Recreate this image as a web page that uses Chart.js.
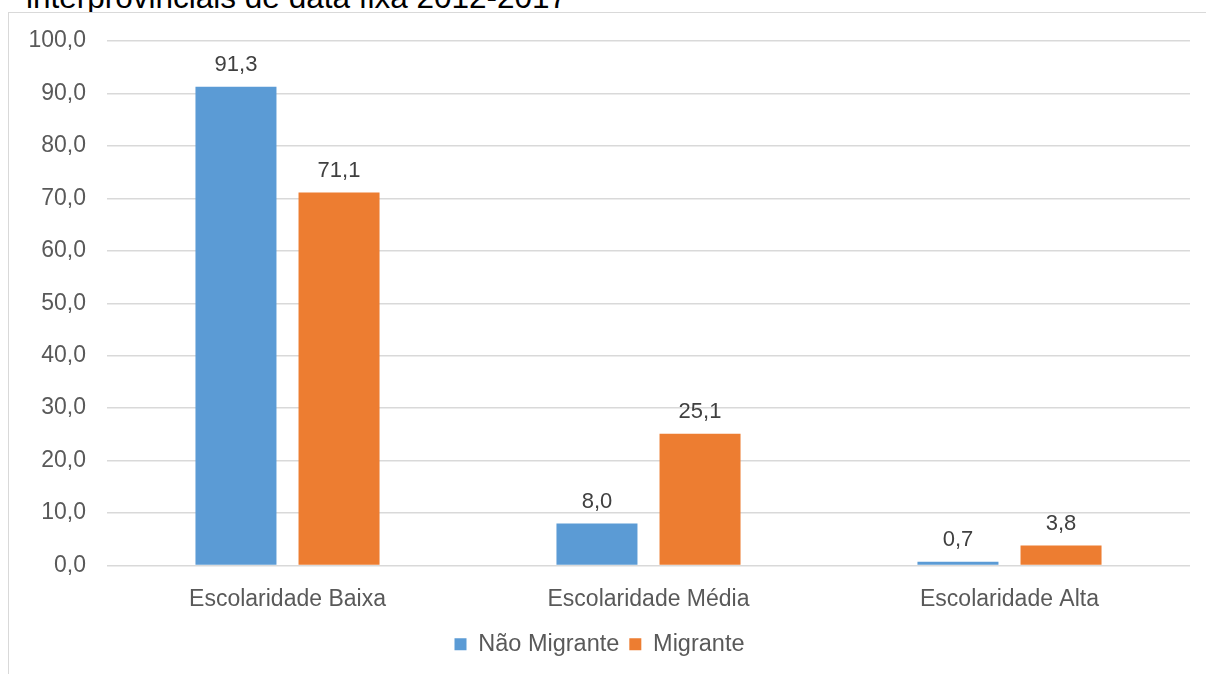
<!DOCTYPE html>
<html>
<head>
<meta charset="utf-8">
<script src="https://cdn.jsdelivr.net/npm/chart.js@4/dist/chart.umd.min.js"></script>
<style>
  html,body{margin:0;padding:0;background:#fff;width:1206px;height:674px;overflow:hidden;font-family:"Liberation Sans",Arial,sans-serif}
  #title{position:absolute;left:26px;top:-18px;font-size:31.5px;line-height:31px;color:#000;white-space:nowrap}
  #frame{position:absolute;left:8px;top:12px;width:1210px;height:680px;border-left:1px solid #d9d9d9;border-top:1px solid #d9d9d9;background:#fff}
  #wrap{position:absolute;left:9px;top:13px;width:1197px;height:661px}
</style>
</head>
<body>
<div id="title">interprovinciais de data fixa 2012-2017</div>
<div id="frame"></div>
<div id="wrap"><canvas id="chart"></canvas></div>
<script>
// categories and series
const CATEGORIES = ['Escolaridade Baixa','Escolaridade Média','Escolaridade Alta'];
const NAO_MIGRANTE = [91.3, 8.0, 0.7];
const MIGRANTE = [71.1, 25.1, 3.8];
const Y_MIN = 0, Y_MAX = 100, Y_STEP = 10;

const FONT = '"Liberation Sans", Arial, sans-serif';
const fmt = v => v.toFixed(1).replace('.', ',');

// draws the value above each bar
const valueLabels = {
  id:'valueLabels',
  afterDatasetsDraw(chart){
    const ctx = chart.ctx;
    ctx.save();
    ctx.font = '22px ' + FONT;
    ctx.fillStyle = '#404040';
    ctx.textAlign = 'center';
    ctx.textBaseline = 'alphabetic';
    chart.data.datasets.forEach((ds, i)=>{
      chart.getDatasetMeta(i).data.forEach((bar, j)=>{
        ctx.fillText(fmt(ds.data[j]), bar.x, bar.y - 16);
      });
    });
    ctx.restore();
  }
};

new Chart(document.getElementById('chart'), {
  type:'bar',
  data:{
    labels:CATEGORIES,
    datasets:[
      {label:'Não Migrante',data:NAO_MIGRANTE,backgroundColor:'#5b9bd5'},
      {label:'Migrante',data:MIGRANTE,backgroundColor:'#ed7d31'}
    ]
  },
  options:{
    responsive:true,
    maintainAspectRatio:false,
    animation:false,
    categoryPercentage:0.571,
    barPercentage:0.786,
    layout:{padding:{left:0,right:16,top:28,bottom:8}},
    plugins:{
      legend:{
        position:'bottom',
        labels:{
          boxWidth:12,boxHeight:12,padding:10,
          color:'#595959',
          font:{size:23.5,family:FONT}
        }
      },
      tooltip:{enabled:false}
    },
    scales:{
      x:{
        afterFit(scale){ scale.height = 57; },
        grid:{display:false},
        border:{display:false},
        ticks:{color:'#595959',padding:12,font:{size:23,family:FONT}}
      },
      y:{
        min:Y_MIN,max:Y_MAX,
        afterFit(scale){ scale.width = 98; scale.paddingTop = 0; scale.paddingBottom = 0; },
        border:{display:false},
        grid:{color:'#d9d9d9',lineWidth:1.5,drawTicks:false},
        ticks:{stepSize:Y_STEP,color:'#595959',padding:21,callback:v=>fmt(v),font:{size:23,family:FONT}}
      }
    }
  },
  plugins:[valueLabels]
});
</script>
</body>
</html>
